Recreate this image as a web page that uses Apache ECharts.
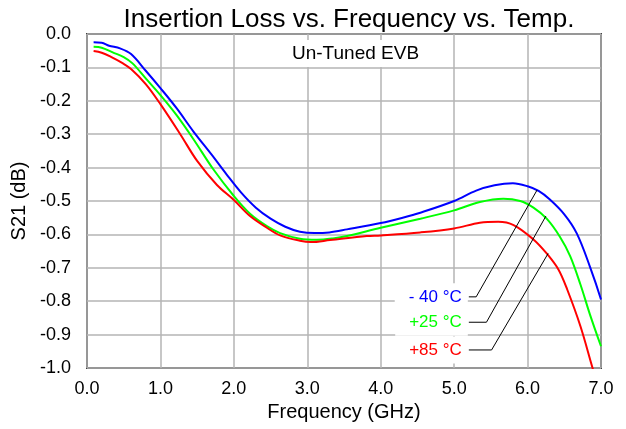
<!DOCTYPE html>
<html>
<head>
<meta charset="utf-8">
<script src="https://cdn.jsdelivr.net/npm/echarts@6/dist/echarts.min.js"></script>
<style>
  html, body { margin: 0; padding: 0; background: #fff; }
  #chart { width: 626px; height: 429px; }
</style>
</head>
<body>
<div id="chart"></div>
<script>
// frequency (GHz) / S21 (dB)
var freqCold = [0.09, 0.2, 0.3, 0.45, 0.6, 0.8, 1.0, 1.22, 1.45, 1.7, 1.9, 2.1, 2.3, 2.5, 2.7, 2.9, 3.1, 3.3, 3.54, 4.0, 4.3, 4.54, 5.0, 5.3, 5.55, 5.8, 6.0, 6.15, 6.3, 6.5, 6.67, 6.85, 7.0];
var s21Cold = [-0.025, -0.026, -0.035, -0.043, -0.06, -0.11, -0.162, -0.222, -0.292, -0.362, -0.42, -0.475, -0.52, -0.553, -0.577, -0.592, -0.596, -0.594, -0.585, -0.566, -0.55, -0.535, -0.5, -0.469, -0.453, -0.447, -0.456, -0.47, -0.495, -0.54, -0.597, -0.697, -0.795];

var freqRoom = [0.09, 0.2, 0.35, 0.5, 0.62, 0.8, 1.0, 1.22, 1.45, 1.72, 2.0, 2.22, 2.45, 2.63, 2.9, 3.13, 3.35, 3.54, 4.0, 4.54, 5.0, 5.35, 5.67, 5.9, 6.08, 6.26, 6.44, 6.58, 6.72, 6.85, 7.0];
var s21Room = [-0.038, -0.041, -0.055, -0.069, -0.088, -0.133, -0.183, -0.243, -0.315, -0.405, -0.485, -0.538, -0.575, -0.596, -0.613, -0.616, -0.612, -0.605, -0.58, -0.553, -0.528, -0.503, -0.493, -0.5, -0.52, -0.553, -0.607, -0.665, -0.75, -0.84, -0.935];

var freqHot = [0.09, 0.2, 0.34, 0.49, 0.6, 0.8, 1.0, 1.27, 1.5, 1.77, 2.0, 2.22, 2.45, 2.63, 2.9, 3.05, 3.31, 3.81, 4.0, 4.54, 5.0, 5.35, 5.6, 5.81, 6.08, 6.26, 6.42, 6.54, 6.72, 6.88, 6.9];
var s21Hot = [-0.051, -0.056, -0.07, -0.088, -0.105, -0.15, -0.21, -0.3, -0.38, -0.452, -0.497, -0.545, -0.58, -0.603, -0.619, -0.623, -0.617, -0.605, -0.603, -0.594, -0.582, -0.565, -0.562, -0.572, -0.615, -0.657, -0.705, -0.765, -0.875, -0.996, -1.01];

var names = ['- 40 °C', '+25 °C', '+85 °C'];
var colors = ['#0000ff', '#00ff00', '#ff0000'];

// callout leaders: label anchor, elbow, point on curve
var leaderCold = [[5.20, -0.787], [5.30, -0.787], [6.13, -0.467]];
var leaderRoom = [[5.20, -0.863], [5.44, -0.863], [6.25, -0.545]];
var leaderHot = [[5.20, -0.946], [5.51, -0.946], [6.28, -0.657]];

var xTicks = [0, 7, 1];
var yTicks = [-1, 0, 0.1];

function zip(xs, ys) {
    var out = [];
    for (var i = 0; i < xs.length; i++) out.push([xs[i], ys[i]]);
    return out;
}

var font = 'Liberation Sans, Arial, sans-serif';

function curve(name, color, data) {
    return {
        name: name,
        type: 'line',
        data: data,
        smooth: 0.35,
        showSymbol: false,
        lineStyle: { color: color, width: 2 },
        z: 3
    };
}

function leader(name, color, data) {
    return {
        type: 'line',
        data: data,
        showSymbol: false,
        silent: true,
        lineStyle: { color: '#000', width: 1 },
        z: 4,
        markPoint: {
            symbol: 'rect',
            symbolSize: 0,
            data: [{
                coord: data[0],
                label: {
                    show: true,
                    position: 'left',
                    distance: 1,
                    formatter: name,
                    color: color,
                    fontFamily: font,
                    fontSize: 17,
                    backgroundColor: '#fff',
                    padding: [5, 6, 5, 14]
                }
            }]
        }
    };
}

var chart = echarts.init(document.getElementById('chart'));
chart.setOption({
    animation: false,
    title: {
        text: 'Insertion Loss vs. Frequency vs. Temp.',
        left: 344,
        top: 2,
        textAlign: 'center',
        textStyle: { fontFamily: font, fontSize: 26, fontWeight: 'normal', color: '#000' }
    },
    graphic: [{
        type: 'text',
        left: 284,
        top: 40,
        z: 10,
        style: {
            text: 'Un-Tuned EVB', fontFamily: font, fontSize: 19, fill: '#000',
            backgroundColor: '#fff', padding: [4, 8, 4, 8]
        }
    }],
    grid: {
        left: 87, right: 25, top: 34, bottom: 61,
        show: true, borderColor: '#404040', borderWidth: 2
    },
    xAxis: {
        type: 'value',
        min: xTicks[0], max: xTicks[1], interval: xTicks[2],
        name: 'Frequency (GHz)',
        nameLocation: 'middle',
        nameGap: 34,
        nameTextStyle: { fontFamily: font, fontSize: 20, color: '#000' },
        axisLine: { show: false },
        axisTick: { show: false },
        axisLabel: {
            margin: 12, fontFamily: font, fontSize: 18, color: '#000',
            formatter: function (v) { return v.toFixed(1); }
        },
        splitLine: { lineStyle: { color: '#b4b4b4', width: 1.5 } }
    },
    yAxis: {
        type: 'value',
        min: yTicks[0], max: yTicks[1], interval: yTicks[2],
        name: 'S21 (dB)',
        nameLocation: 'middle',
        nameGap: 52,
        nameTextStyle: { fontFamily: font, fontSize: 20, color: '#000' },
        axisLine: { show: false },
        axisTick: { show: false },
        axisLabel: {
            margin: 16, fontFamily: font, fontSize: 18, color: '#000',
            formatter: function (v) { return v.toFixed(1); }
        },
        splitLine: { lineStyle: { color: '#b4b4b4', width: 1.5 } }
    },
    series: [
        curve(names[0], colors[0], zip(freqCold, s21Cold)),
        curve(names[1], colors[1], zip(freqRoom, s21Room)),
        curve(names[2], colors[2], zip(freqHot, s21Hot)),
        leader(names[0], colors[0], leaderCold),
        leader(names[1], colors[1], leaderRoom),
        leader(names[2], colors[2], leaderHot)
    ]
});
</script>
</body>
</html>
